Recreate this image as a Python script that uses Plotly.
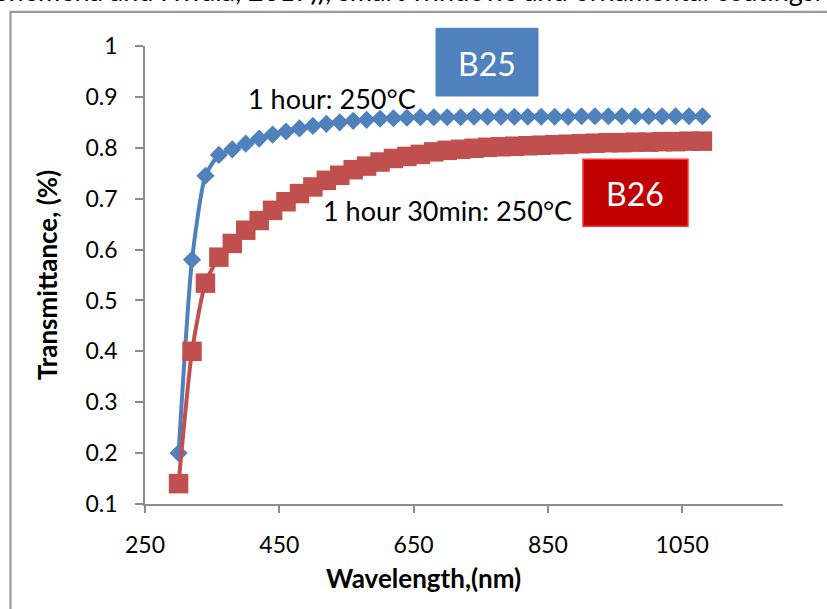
import plotly.graph_objects as go

# ---- data ----
wavelength = list(range(300, 1081, 20))
b25 = [0.20, 0.58, 0.745, 0.786, 0.797, 0.808, 0.818, 0.826, 0.832, 0.838,
       0.843, 0.847, 0.850, 0.853, 0.855, 0.857, 0.858, 0.859, 0.860, 0.860,
       0.860, 0.860, 0.861, 0.861, 0.861, 0.861, 0.861, 0.861, 0.861, 0.861,
       0.862, 0.862, 0.862, 0.862, 0.862, 0.862, 0.862, 0.862, 0.862, 0.862]
b26 = [0.14, 0.40, 0.534, 0.585, 0.612, 0.638, 0.657, 0.677, 0.694, 0.710,
       0.723, 0.736, 0.746, 0.757, 0.764, 0.772, 0.779, 0.783, 0.787, 0.792,
       0.795, 0.797, 0.799, 0.801, 0.802, 0.803, 0.804, 0.805, 0.806, 0.807,
       0.808, 0.809, 0.810, 0.810, 0.811, 0.811, 0.812, 0.812, 0.813, 0.813]
x_ticks = [250, 450, 650, 850, 1050]
y_ticks = [0.1, 0.2, 0.3, 0.4, 0.5, 0.6, 0.7, 0.8, 0.9, 1]
y_tick_text = ["0.1", "0.2", "0.3", "0.4", "0.5", "0.6", "0.7", "0.8", "0.9", "1"]

W, H = 827, 609
L, R, T, B = 145, 783, 45.7, 503.8
FONT = "Lato"


def px(x):
    return (x - L) / (R - L)


def py(y):
    return (B - y) / (B - T)


fig = go.Figure()
fig.add_trace(go.Scatter(
    x=wavelength, y=b25, mode="lines+markers", name="B25",
    line=dict(color="#4F81BD", width=4, shape="spline", smoothing=0.6),
    marker=dict(symbol="diamond", size=14, color="#4F81BD"),
))
fig.add_trace(go.Scatter(
    x=wavelength, y=b26, mode="lines+markers", name="B26",
    line=dict(color="#C0504D", width=4, shape="spline", smoothing=0.6),
    marker=dict(symbol="square", size=19.5, color="#C0504D"),
))

shapes = [
    # outer border
    dict(type="rect", xref="paper", yref="paper",
         x0=px(10.5), x1=px(900), y0=py(11.5), y1=py(700),
         line=dict(color="#9A9A9A", width=2.2), fillcolor="rgba(0,0,0,0)", layer="below"),
    # B25 box
    dict(type="rect", xref="paper", yref="paper",
         x0=px(436), x1=px(538), y0=py(28), y1=py(95.7),
         line=dict(color="#4F81BD", width=1), fillcolor="#4F81BD"),
    # B26 box
    dict(type="rect", xref="paper", yref="paper",
         x0=px(583), x1=px(688), y0=py(159), y1=py(226),
         line=dict(color="#FF3030", width=1.5), fillcolor="#C00000"),
]


def label(text, x, y, size, color="black", xanchor="center", yanchor="middle", bold=False):
    if bold:
        text = "<b>" + text + "</b>"
    return dict(text=text, x=px(x), y=py(y), xref="paper", yref="paper",
                xanchor=xanchor, yanchor=yanchor, showarrow=False,
                font=dict(family=FONT, size=size, color=color))


annotations = [
    label("1 hour: 250°C", 332, 98, 27),
    label("1 hour 30min: 250°C", 447, 210, 27),
    label("B25", 487, 63, 32, "white"),
    label("B26", 635, 193, 32, "white"),
    label("Ghemena and Hwala, 2017)), smart windows and ornamental coatings.",
          823, 9, 27, xanchor="right", yanchor="bottom"),
    label("Wavelength,(nm)", 423, 578, 26, bold=True),
]

fig.update_layout(
    width=W, height=H,
    margin=dict(l=L, r=W - R, t=T, b=H - B, pad=0),
    paper_bgcolor="white", plot_bgcolor="white",
    showlegend=False,
    font=dict(family=FONT, size=23, color="black"),
    shapes=shapes, annotations=annotations,
    xaxis=dict(range=[250, 1200], tickvals=x_ticks, ticks="outside", ticklen=7,
               tickcolor="#8C8C8C", tickwidth=1.5, showline=True, linecolor="#8C8C8C",
               linewidth=1.5, showgrid=False, zeroline=False, ticklabelstandoff=13,
               tickfont=dict(family=FONT, size=23, color="black")),
    yaxis=dict(range=[0.1, 1.0], tickvals=y_ticks, ticktext=y_tick_text, ticks="outside",
               ticklen=8, tickcolor="#8C8C8C", tickwidth=1.5, showline=True,
               linecolor="#8C8C8C", linewidth=1.5, showgrid=False, zeroline=False,
               ticklabelstandoff=13, tickfont=dict(family=FONT, size=23, color="black"),
               title=dict(text="<b>Transmittance, (%)</b>", standoff=20,
                          font=dict(family=FONT, size=26, color="black"))),
)

fig.write_html("out.html", config={"displayModeBar": False},
               post_script="document.body.style.margin='0';document.body.style.overflow='hidden';")
